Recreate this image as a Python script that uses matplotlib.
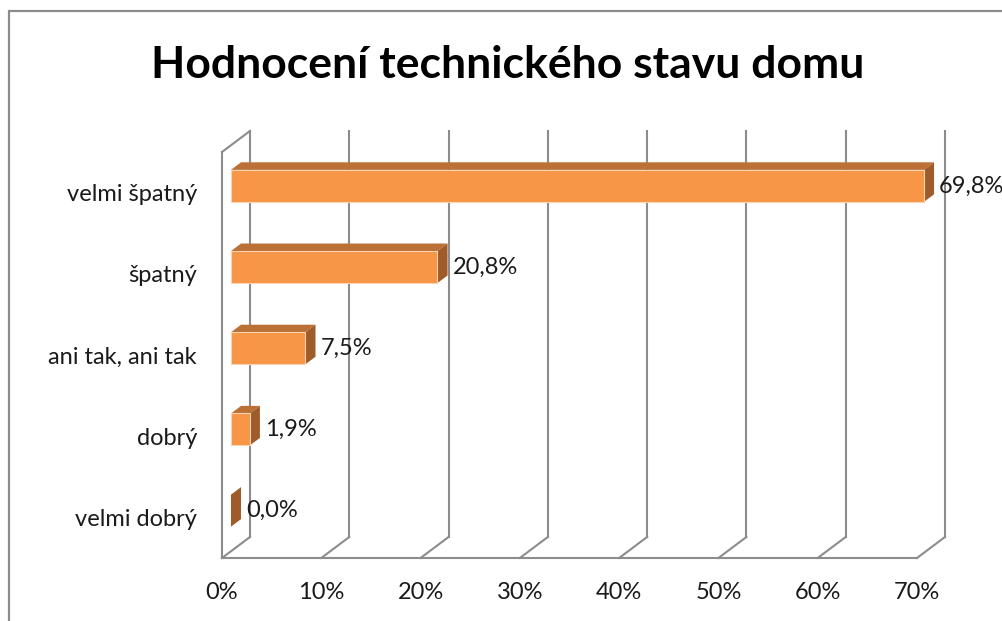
import matplotlib
matplotlib.use('Agg')
import matplotlib.pyplot as plt
from matplotlib.patches import Polygon, Rectangle

plt.rcParams['font.family'] = ['Lato', 'DejaVu Sans']

# data, top to bottom as shown in the chart
categories = ['velmi špatný', 'špatný', 'ani tak, ani tak', 'dobrý', 'velmi dobrý']
values = [69.8, 20.8, 7.5, 1.9, 0.0]
value_labels = ['69,8%', '20,8%', '7,5%', '1,9%', '0,0%']
x_ticks = [0, 10, 20, 30, 40, 50, 60, 70]
x_tick_labels = ['0%', '10%', '20%', '30%', '40%', '50%', '60%', '70%']
title = 'Hodnocení technického stavu domu'

# look of the pseudo 3d chart
W, H = 1003, 621
DEPTH_X = 2.82   # depth shift in % units
DEPTH_Y = 0.259  # depth shift in category units
BAR_FRONT, BAR_BACK = 0.32, 0.68
BAR_H = 0.394
GRID = '#8c8c8c'
FRONT = '#f79646'
TOP = '#bb7036'
SIDE = '#9f5c2a'
FS = 17


def proj(x, y, d):
    return (x + DEPTH_X * d, y + DEPTH_Y * d)


fig = plt.figure(figsize=(W / 100, H / 100), dpi=100)
fig.patch.set_facecolor('white')
ax = fig.add_axes([222 / W, 63 / H, 695 / W, 406 / H])
ax.set_xlim(0, 70)
ax.set_ylim(-0.5, 4.5)
ax.set_facecolor('none')
for s in ax.spines.values():
    s.set_visible(False)

ymin, ymax = -0.5, 4.5
lw = 1.5

# back wall grid + floor diagonals
for xv in x_ticks:
    bx0, by0 = proj(xv, ymin, 1)
    bx1, by1 = proj(xv, ymax, 1)
    ax.plot([bx0, bx1], [by0, by1], color=GRID, lw=lw, clip_on=False, zorder=1)
    fx, fy = proj(xv, ymin, 0)
    ax.plot([fx, bx0], [fy, by0], color=GRID, lw=lw, clip_on=False, zorder=1)

# front floor edge
ax.plot([0, 70], [ymin, ymin], color=GRID, lw=lw, clip_on=False, zorder=1)
# left wall
ax.plot([0, 0], [ymin, ymax], color=GRID, lw=lw, clip_on=False, zorder=1)
tx, ty = proj(0, ymax, 1)
ax.plot([0, tx], [ymax, ty], color=GRID, lw=lw, clip_on=False, zorder=1)

# bars (index 0 at the bottom)
n = len(categories)
for k in range(n):
    i = n - 1 - k
    v = values[i]
    y0, y1 = k - BAR_H / 2, k + BAR_H / 2
    top = [proj(0, y1, BAR_FRONT), proj(v, y1, BAR_FRONT),
           proj(v, y1, BAR_BACK), proj(0, y1, BAR_BACK)]
    side = [proj(v, y0, BAR_FRONT), proj(v, y1, BAR_FRONT),
            proj(v, y1, BAR_BACK), proj(v, y0, BAR_BACK)]
    front = [proj(0, y0, BAR_FRONT), proj(v, y0, BAR_FRONT),
             proj(v, y1, BAR_FRONT), proj(0, y1, BAR_FRONT)]
    ax.add_patch(Polygon(top, closed=True, fc=TOP, ec='none', clip_on=False, zorder=3))
    ax.add_patch(Polygon(side, closed=True, fc=SIDE, ec='none', clip_on=False, zorder=3))
    if v > 0:
        ax.add_patch(Polygon(front, closed=True, fc=FRONT, ec='#fbd3b3', lw=0.8,
                             clip_on=False, zorder=4))
    lx, ly = proj(v, k, BAR_FRONT)
    ax.text(lx + DEPTH_X * (BAR_BACK - BAR_FRONT) + 0.5, ly, value_labels[i],
            fontsize=FS, color='#1a1a1a', va='center', ha='left', zorder=5)

ax.set_xticks(x_ticks)
ax.set_xticklabels(x_tick_labels)
ax.set_yticks(range(n))
ax.set_yticklabels(categories[::-1])
ax.tick_params(axis='x', length=0, pad=17, labelsize=FS, labelcolor='#1a1a1a')
ax.tick_params(axis='y', length=0, pad=18, labelsize=FS, labelcolor='#1a1a1a')

fig.text(508 / W, 1 - 78 / H, title, fontsize=32, fontweight='bold',
         ha='center', va='baseline', color='black')

# outer chart border
fig.add_artist(Rectangle((9.5 / W, -0.1), 2, 1 - 11 / H + 0.1, transform=fig.transFigure,
                         fill=False, ec='#8c8c8c', lw=1.6))

fig.savefig('out.png', dpi=100)
